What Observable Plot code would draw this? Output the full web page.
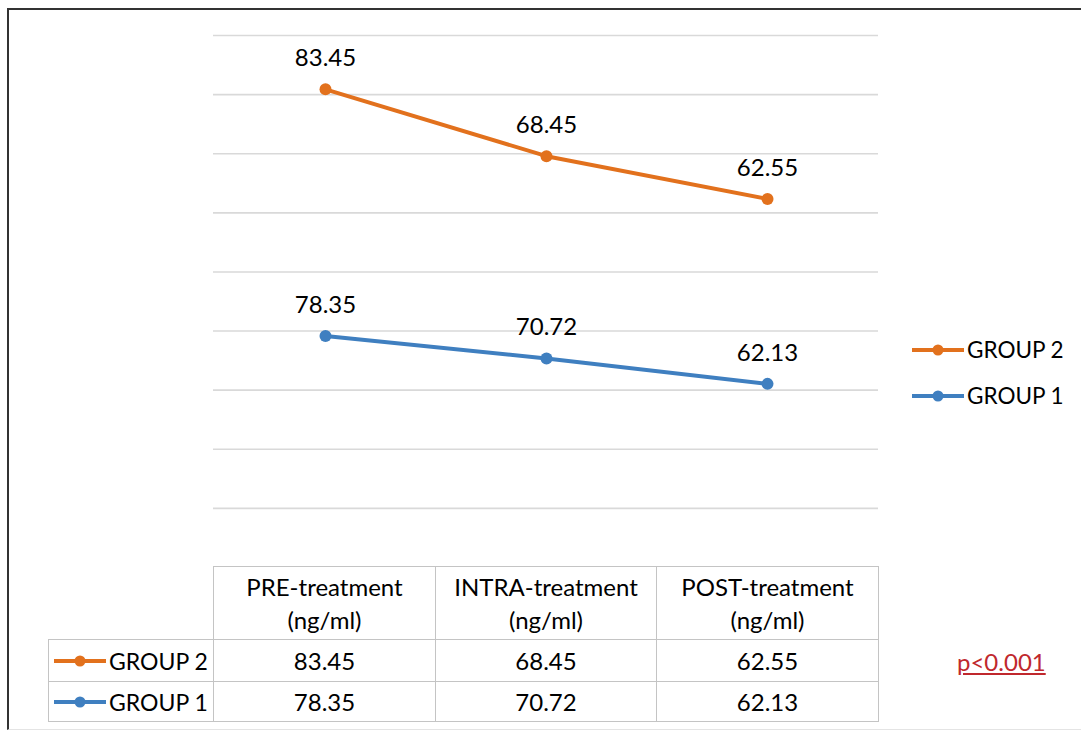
<!DOCTYPE html>
<html>
<head>
<meta charset="utf-8">
<script src="https://cdn.jsdelivr.net/npm/d3@7"></script>
<script src="https://cdn.jsdelivr.net/npm/@observablehq/plot@0.6"></script>
<style>
  html, body { margin: 0; padding: 0; background: #fff; }
  #wrap { position: relative; width: 1081px; height: 732px; overflow: hidden; font-family: Lato, "Open Sans", sans-serif; color: #000; }
  #frame { position: absolute; left: 7px; top: 8px; width: 1100px; height: 722px; border-left: 2px solid #333; border-top: 2px solid #333; border-bottom: 1px solid #e4e4e4; box-sizing: border-box; pointer-events: none; z-index: 3; }
  #chart { position: absolute; left: 0; top: 0; z-index: 1; }
  #table { position: absolute; left: 48px; top: 566px; border-collapse: collapse; table-layout: fixed; font-size: 24px; z-index: 2; }
  #table td { border: 1.5px solid #c4c4c4; text-align: center; padding: 0; }
  #table td.blank { border-top: none; border-left: none; }
  #table td.lab { text-align: left; white-space: nowrap; font-size: 23px; }
  .leg { position: absolute; font-size: 22.5px; white-space: nowrap; display: flex; align-items: center; z-index: 2; }
  .leg svg { display: block; }
  #pval { position: absolute; left: 957px; top: 647px; font-size: 24px; color: #c0282d; text-decoration: underline; z-index: 2; }
</style>
</head>
<body>
<div id="wrap">
  <div id="frame"></div>
  <div id="chart"></div>
  <table id="table"></table>
  <div id="legend"></div>
  <div id="pval">p&lt;0.001</div>
</div>
<script>
const phases = ["PRE-treatment", "INTRA-treatment", "POST-treatment"];
const unit = "(ng/ml)";
const groups = ["GROUP 2", "GROUP 1"];
const group2 = [83.45, 68.45, 62.55];
const group1 = [78.35, 70.72, 62.13];
const colors = ["#e2711d", "#3f7fc0"];
const gridTicks = [0, 20, 40, 60, 80, 100, 120, 140, 160, 180];

const seriesValues = { "GROUP 2": group2, "GROUP 1": group1 };
const data = [];
for (const g of groups) {
  phases.forEach((p, i) => data.push({ group: g, phase: p, value: seriesValues[g][i] }));
}

const stackOpts = { x: "phase", y: "value", z: "group", order: ["GROUP 1", "GROUP 2"] };

const chart = Plot.plot({
  width: 1081,
  height: 567,
  marginLeft: 213,
  marginRight: 203,
  marginTop: 35,
  marginBottom: 0,
  style: { background: "none", fontFamily: "Lato, 'Open Sans', sans-serif" },
  x: { type: "point", domain: phases, padding: 0.5, axis: null },
  y: { domain: [0, 180], axis: null },
  color: { domain: groups, range: colors },
  marks: [
    Plot.ruleY(gridTicks, { stroke: "#d9d9d9", strokeWidth: 1.6 }),
    Plot.lineY(data, Plot.stackY2({ ...stackOpts, stroke: "group", strokeWidth: 4 })),
    Plot.dot(data, Plot.stackY2({ ...stackOpts, fill: "group", r: 6 })),
    Plot.text(data, Plot.stackY2({ ...stackOpts, text: d => d.value.toFixed(2), dy: -31, fontSize: 24, fill: "#000" }))
  ]
});
document.getElementById("chart").appendChild(chart);

function legendLine(color) {
  return `<svg width="54" height="14"><line x1="1" y1="7" x2="53" y2="7" stroke="${color}" stroke-width="4"/><circle cx="27" cy="7" r="5.5" fill="${color}"/></svg>`;
}

// data table
const table = document.getElementById("table");
const colW = [165, 222, 221, 222];
let html = "<colgroup>" + colW.map(w => `<col style="width:${w}px">`).join("") + "</colgroup>";
html += `<tr style="height:73px"><td class="blank"></td>` +
  phases.map(p => `<td style="line-height:33px">${p}<br>${unit}</td>`).join("") + "</tr>";
groups.forEach((g, gi) => {
  const h = gi === 0 ? 42 : 40;
  html += `<tr style="height:${h}px"><td class="lab"><div style="display:flex;align-items:center;padding-left:4px">${legendLine(colors[gi])}<span style="margin-left:2px">${g}</span></div></td>` +
    seriesValues[g].map(v => `<td>${v.toFixed(2)}</td>`).join("") + "</tr>";
});
table.innerHTML = html;

// right legend
const legend = document.getElementById("legend");
const legTops = [336, 382];
groups.forEach((g, gi) => {
  const d = document.createElement("div");
  d.className = "leg";
  d.style.left = "911px";
  d.style.top = legTops[gi] + "px";
  d.innerHTML = legendLine(colors[gi]) + `<span style="margin-left:2px">${g}</span>`;
  legend.appendChild(d);
});
</script>
</body>
</html>
